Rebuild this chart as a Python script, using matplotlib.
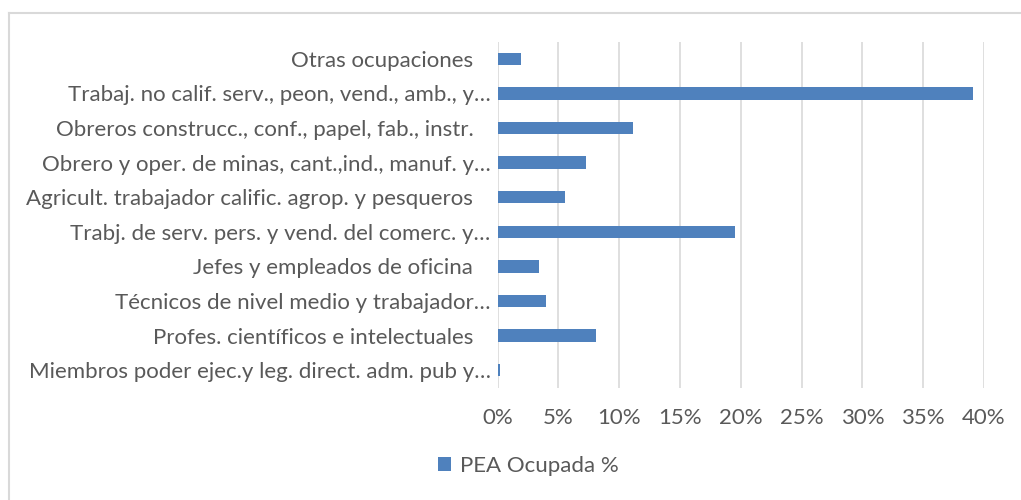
import matplotlib.pyplot as plt
from matplotlib.lines import Line2D
from matplotlib.ticker import PercentFormatter

ESP = "\u00a0" * 3  # trailing blanks kept from the source labels

# categories bottom to top, as drawn
categorias = [
    "Miembros poder ejec.y leg. direct. adm. pub y…",
    "Profes. científicos e intelectuales" + ESP,
    "Técnicos de nivel medio y trabajador…",
    "Jefes y empleados de oficina" + ESP,
    "Trabj. de serv. pers. y vend. del comerc. y…",
    "Agricult. trabajador calific. agrop. y pesqueros" + ESP,
    "Obrero y oper. de minas, cant.,ind., manuf. y…",
    "Obreros construcc., conf., papel, fab., instr." + ESP,
    "Trabaj. no calif. serv., peon, vend., amb., y…",
    "Otras ocupaciones" + ESP,
]
pea_ocupada = [0.18, 8.1, 3.95, 3.4, 19.5, 5.55, 7.25, 11.1, 39.1, 1.9]
serie = "PEA Ocupada %"

azul = "#4F81BD"
gris_txt = "#595959"
gris_grid = "#D9D9D9"

plt.rcParams['font.family'] = ['Lato', 'DejaVu Sans']
fs = 16

fig = plt.figure(figsize=(10.21, 5.0), dpi=100)
# chart border, cropped at right and bottom in the source image
x0, y0 = 8.7 / 1021, 1 - 12.5 / 500
fig.lines.append(Line2D([x0, 1], [y0, y0], transform=fig.transFigure,
                        color=gris_grid, linewidth=1.5))
fig.lines.append(Line2D([x0, x0], [0, y0], transform=fig.transFigure,
                        color=gris_grid, linewidth=1.5))

ax = fig.add_axes([497.5 / 1021, 1 - 387.5 / 500, (984 - 497.5) / 1021, 346 / 500])
ax.barh(range(len(categorias)), pea_ocupada, height=0.36, color=azul,
        label=serie, zorder=3)
ax.set_ylim(-0.5, len(categorias) - 0.5)
ax.set_xlim(0, 40)
ax.set_xticks(range(0, 41, 5))
ax.xaxis.set_major_formatter(PercentFormatter(decimals=0))
ax.set_yticks(range(len(categorias)))
ax.set_yticklabels(categorias)
ax.grid(axis='x', color=gris_grid, linewidth=1.2, zorder=0)
for s in ax.spines.values():
    s.set_visible(False)
ax.tick_params(axis='both', length=0, labelsize=fs, colors=gris_txt)
ax.tick_params(axis='y', pad=5)
ax.tick_params(axis='x', pad=15)

fig.legend(handles=ax.patches[:1], labels=[serie], loc='center',
           bbox_to_anchor=(528 / 1021, 1 - 466 / 500), frameon=False,
           fontsize=fs, labelcolor=gris_txt, handlelength=0.6,
           handleheight=0.6, handletextpad=0.4)

fig.savefig("out.png", dpi=100)
